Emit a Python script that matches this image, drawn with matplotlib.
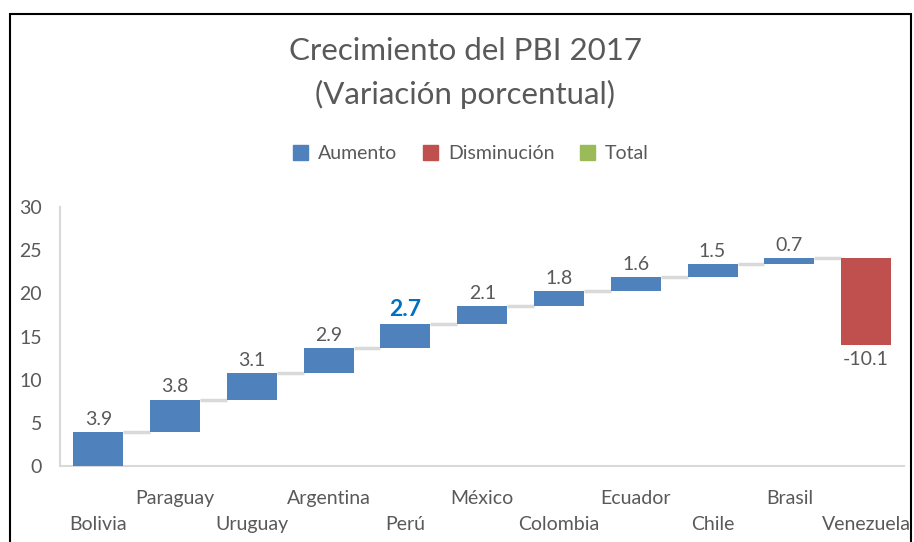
import numpy as np
import matplotlib.pyplot as plt
from matplotlib.patches import Rectangle, Patch

plt.rcParams['font.family'] = ['Lato', 'DejaVu Sans']

# data
countries = ["Bolivia", "Paraguay", "Uruguay", "Argentina", "Perú", "México",
             "Colombia", "Ecuador", "Chile", "Brasil", "Venezuela"]
growth = [3.9, 3.8, 3.1, 2.9, 2.7, 2.1, 1.8, 1.6, 1.5, 0.7, -10.1]
labels = ["3.9", "3.8", "3.1", "2.9", "2.7", "2.1", "1.8", "1.6", "1.5", "0.7", "-10.1"]
highlight = "Perú"

blue = "#4F81BD"
red = "#C0504D"
green = "#9BBB59"
gray_txt = "#595959"
line_gray = "#D9D9D9"

fig = plt.figure(figsize=(9.14, 5.42), dpi=100)
ax = fig.add_axes([0.0656, 0.140, 0.924, 0.478])

vals = np.array(growth)
ends = np.cumsum(vals)
starts = ends - vals
x = np.arange(len(countries))
w = 0.65

colors = [blue if v >= 0 else red for v in vals]
ax.bar(x, vals, bottom=starts, width=w, color=colors, zorder=3)

# connectors
for i in range(len(x) - 1):
    ax.plot([x[i] + w / 2, x[i + 1] - w / 2], [ends[i], ends[i]],
            color=line_gray, lw=2.5, zorder=2, solid_capstyle='butt')

# data labels
for i, v in enumerate(vals):
    top = max(starts[i], ends[i])
    bot = min(starts[i], ends[i])
    if countries[i] == highlight:
        ax.annotate(labels[i], (x[i], top), xytext=(0, 3), textcoords='offset points',
                    ha='center', va='bottom', fontsize=16.5, fontweight='bold',
                    color="#0070C0")
    elif v >= 0:
        ax.annotate(labels[i], (x[i], top), xytext=(0, 3), textcoords='offset points',
                    ha='center', va='bottom', fontsize=14, color=gray_txt)
    else:
        ax.annotate(labels[i], (x[i], bot), xytext=(0, -4), textcoords='offset points',
                    ha='center', va='top', fontsize=14, color=gray_txt)

ax.set_xlim(-0.5, len(x) - 0.5)
ax.set_ylim(0, 30)
ax.set_yticks(np.arange(0, 31, 5))
ax.tick_params(axis='y', length=0, labelsize=14, labelcolor=gray_txt, pad=13)
ax.set_xticks(x)
ax.set_xticklabels(countries)
ax.tick_params(axis='x', length=0, labelsize=14, labelcolor=gray_txt)
for i, t in enumerate(ax.xaxis.get_major_ticks()):
    t.set_pad(36 if i % 2 == 0 else 17)

for s in ['top', 'right']:
    ax.spines[s].set_visible(False)
for s in ['left', 'bottom']:
    ax.spines[s].set_color(line_gray)
    ax.spines[s].set_linewidth(1.5)

fig.text(0.509, 0.905, "Crecimiento del PBI 2017", ha='center', va='center',
         fontsize=22.5, color=gray_txt)
fig.text(0.509, 0.826, "(Variación porcentual)", ha='center', va='center',
         fontsize=22.5, color=gray_txt)

handles = [Patch(color=blue), Patch(color=red), Patch(color=green)]
fig.legend(handles, ["Aumento", "Disminución", "Total"], loc='center',
           bbox_to_anchor=(0.515, 0.717), ncol=3, frameon=False, fontsize=14,
           handlelength=0.8, handleheight=0.8, handletextpad=0.5, columnspacing=1.3,
           labelcolor=gray_txt)

# outer frame
fig.patches.append(Rectangle((10 / 914, -0.1), 901 / 914, 1.1 - 14 / 542,
                             transform=fig.transFigure, fill=False,
                             edgecolor='black', lw=1.5))

fig.savefig("out.png", dpi=100)
